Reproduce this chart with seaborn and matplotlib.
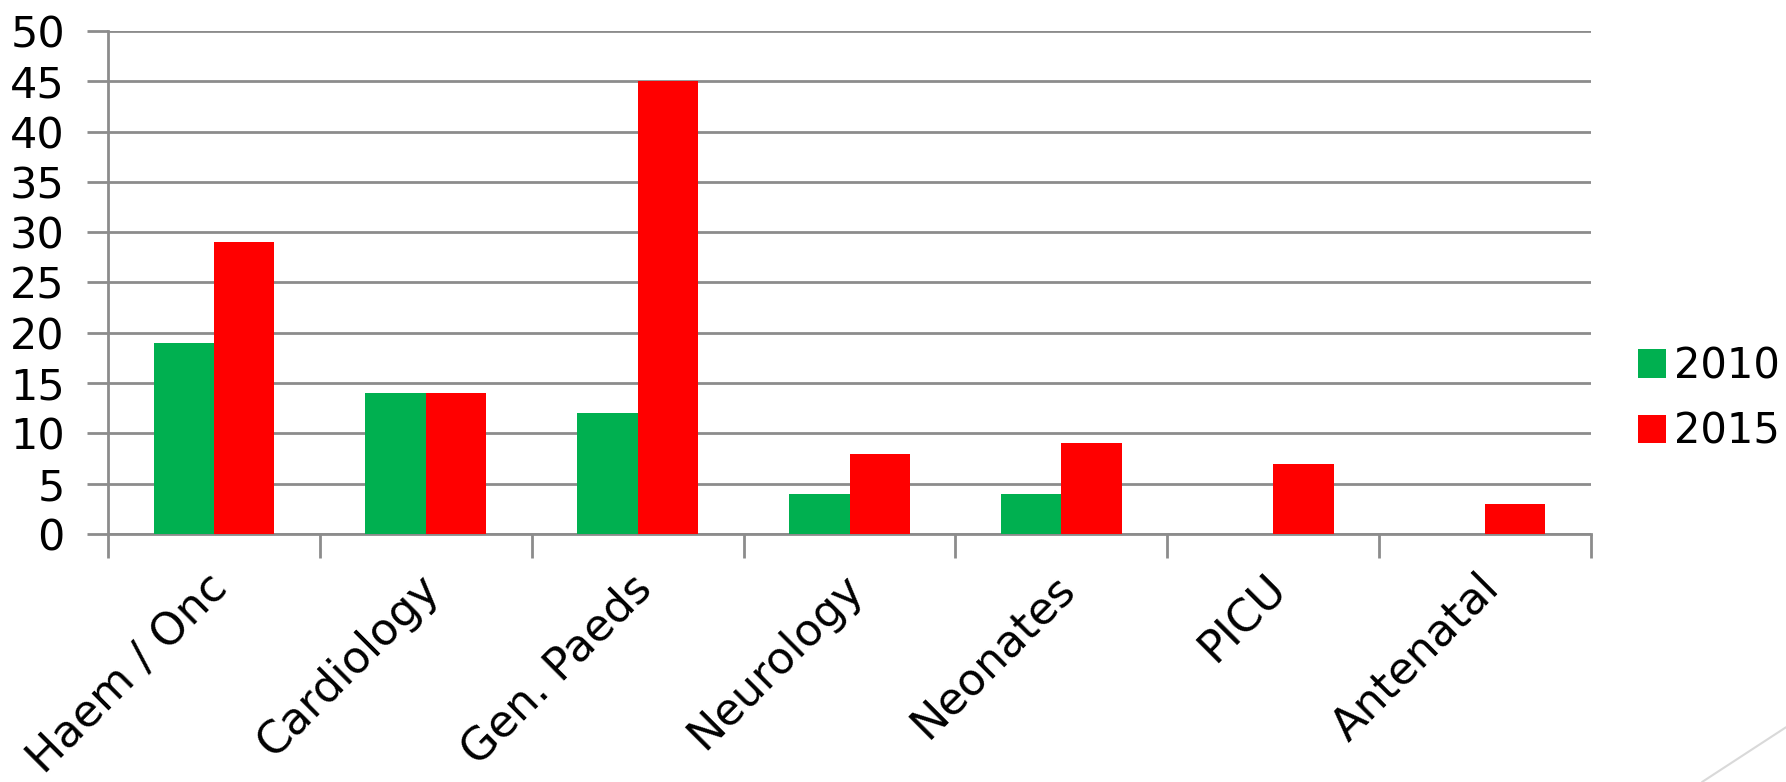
import numpy as np
import pandas as pd
import matplotlib
matplotlib.use("Agg")
import matplotlib.pyplot as plt
import matplotlib.transforms as mtransforms
from matplotlib.lines import Line2D
from matplotlib.patches import Patch
import seaborn as sns

# chart data
categories = ["Haem / Onc", "Cardiology", "Gen. Paeds", "Neurology", "Neonates", "PICU", "Antenatal"]
values_2010 = [19, 14, 12, 4, 4, 0, 0]
values_2015 = [29, 14, 45, 8, 9, 7, 3]
years = ["2010", "2015"]
colors = {"2010": "#00B050", "2015": "#FF0000"}

df = pd.DataFrame({
    "category": categories * 2,
    "year": ["2010"] * len(categories) + ["2015"] * len(categories),
    "count": values_2010 + values_2015,
})

sns.set_style("white")
plt.rcParams["font.family"] = ["DejaVu Sans"]
plt.rcParams["text.color"] = "black"

fig = plt.figure(figsize=(17.86, 7.82), dpi=100)
ax = fig.add_axes([0.0605, 0.3171, 0.8303, 0.6433])

sns.barplot(data=df, x="category", y="count", hue="year", palette=colors,
            order=categories, hue_order=years, width=0.57, saturation=1,
            linewidth=0, ax=ax, legend=False, zorder=3)

grid_col = "#8c8c8c"
ax.set_ylim(0, 50)
ax.set_xlim(-0.5, len(categories) - 0.5)
ax.set_yticks(np.arange(0, 51, 5))
ax.yaxis.grid(True, color=grid_col, linewidth=2, zorder=0)
ax.set_axisbelow(True)
for s in ["top", "right"]:
    ax.spines[s].set_visible(False)
for s in ["left", "bottom"]:
    ax.spines[s].set_color(grid_col)
    ax.spines[s].set_linewidth(2)

ax.tick_params(axis="y", left=True, length=15, width=2, color=grid_col, pad=16,
               labelsize=31, labelcolor="black")
ax.set_xticks(np.arange(-0.5, len(categories)), minor=True)
ax.tick_params(axis="x", which="minor", bottom=True, length=17, width=2, color=grid_col)
ax.tick_params(axis="x", which="major", bottom=True, length=0, pad=34,
               labelsize=32, labelcolor="black")
ax.set_xticks(range(len(categories)))
ax.set_xticklabels(categories, rotation=45, ha="right", va="center", rotation_mode="anchor")
shift = mtransforms.ScaledTranslation(5 / 72, 0, fig.dpi_scale_trans)
for lbl in ax.get_xticklabels():
    lbl.set_transform(lbl.get_transform() + shift)
ax.set_xlabel("")
ax.set_ylabel("")

handles = [Patch(facecolor=colors[y], edgecolor="none") for y in years]
fig.legend(handles, years, loc="center left", bbox_to_anchor=(0.917, 0.49),
           frameon=False, fontsize=30, handlelength=0.67, handleheight=0.67,
           handletextpad=0.2, labelspacing=0.56, borderpad=0, borderaxespad=0)

# decorative slide line, bottom right
fig.add_artist(Line2D([0.953, 1.0], [0.0, 0.07], color="#d9d9d9", linewidth=1.5))

fig.savefig("out.png", dpi=100)
